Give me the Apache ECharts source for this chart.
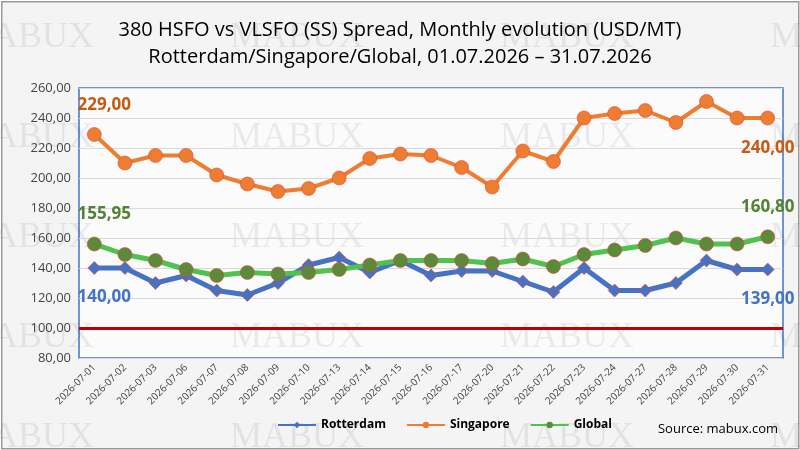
<!DOCTYPE html>
<html><head><meta charset="utf-8">
<script src="https://cdn.jsdelivr.net/npm/echarts@6/dist/echarts.min.js"></script>
<style>html,body{margin:0;padding:0;background:#fff}#chart{width:800px;height:450px}</style>
</head><body><div id="chart"></div>
<script>
const dates = ['2026-07-01','2026-07-02','2026-07-03','2026-07-06','2026-07-07','2026-07-08','2026-07-09','2026-07-10','2026-07-13','2026-07-14','2026-07-15','2026-07-16','2026-07-17','2026-07-20','2026-07-21','2026-07-22','2026-07-23','2026-07-24','2026-07-27','2026-07-28','2026-07-29','2026-07-30','2026-07-31']
const rotterdam = [140,140,130,135,125,122,130,142,147,137,145,135,138,138,131,124,140,125,125,130,145,139,139]
const singapore = [229,210,215,215,202,196,191,193,200,213,216,215,207,194,218,211,240,243,245,237,251,240,240]
const globalAvg = [155.95,149,145,139,135,137,136,137,139,142,145,145,145,143,146,141,149,152,155,160,156,156,160.8]

const fmt = v => v.toFixed(2).replace('.', ',')
const last = dates.length - 1

function mkSeries(name, data, lineColor, dotColor, textColor, symbol, size, lw, posFirst, posLast) {
  return {
    name, type: 'line', symbol, symbolSize: size,
    lineStyle: { color: lineColor, width: lw },
    itemStyle: { color: dotColor, borderColor: '#e8453c', borderWidth: 0.6 },
    data: data.map((v, i) => {
      if (i === 0 || i === last) {
        return { value: v, label: { show: true, position: i === 0 ? posFirst : posLast,
          offset: i === 0 ? [10, 0] : [0, 0],
          formatter: fmt(v), color: textColor, fontSize: 17, fontWeight: 'bold', fontFamily: 'Open Sans',
          distance: 14 } }
      }
      return v
    })
  }
}

const chart = echarts.init(document.getElementById('chart'))
const wm = []
for (let r = 0; r < 5; r++) for (let c = 0; c < 4; c++) {
  wm.push({ type: 'text', left: -40 + c * 270, top: 20 + r * 100, z: 0,
    style: { text: 'MABUX', font: '36px "Liberation Serif"', fill: 'rgba(0,0,0,0.07)' } })
}
wm.push({ type: 'text', right: 22, bottom: 14, z: 10,
  style: { text: 'Source: mabux.com', font: '13px "Open Sans"', fill: '#000' } })
wm.push({ type: 'rect', left: 1, top: 1, z: -1, shape: { width: 797, height: 447 },
  style: { fill: '#f4f4f4', stroke: '#999', lineWidth: 1.5 } })

chart.setOption({
  backgroundColor: '#fff',
  title: {
    text: '380 HSFO vs VLSFO (SS) Spread, Monthly evolution (USD/MT)\nRotterdam/Singapore/Global, 01.07.2026 – 31.07.2026',
    left: 'center', top: 12,
    textStyle: { fontFamily: 'Open Sans', fontSize: 20, fontWeight: 'normal', color: '#000', lineHeight: 27 }
  },
  graphic: wm,
  legend: {
    bottom: 14, left: 272, itemGap: 20, itemWidth: 38, itemHeight: 8,
    textStyle: { fontFamily: 'Open Sans', fontSize: 12, color: '#000', fontWeight: 'bold' },
    itemStyle: { borderWidth: 0 },
    data: ['Rotterdam', 'Singapore', 'Global']
  },
  grid: { left: 79, right: 17, top: 88, bottom: 92, show: true, borderColor: '#4472c4', borderWidth: 1.5, backgroundColor: 'rgba(255,255,255,0.6)' },
  xAxis: {
    type: 'category', data: dates, boundaryGap: true,
    axisLine: { show: false }, axisTick: { show: false },
    axisLabel: { rotate: 45, interval: 0, fontSize: 10, color: '#444', fontFamily: 'Open Sans' }
  },
  yAxis: {
    type: 'value', min: 80, max: 260, interval: 20,
    axisLabel: { formatter: v => fmt(v), fontSize: 13, color: '#444', fontFamily: 'Open Sans' },
    splitLine: { lineStyle: { color: '#d9d9d9' } }
  },
  series: [
    Object.assign(mkSeries('Rotterdam', rotterdam, '#4472c4', '#4472c4', '#4472c4', 'diamond', 13, 5, 'bottom', 'bottom'), {
      markLine: { silent: true, symbol: 'none', label: { show: false },
        lineStyle: { color: '#c00000', width: 3, type: 'solid' }, data: [{ yAxis: 100 }] }
    }),
    mkSeries('Singapore', singapore, '#ed7d31', '#ed7d31', '#c55a11', 'circle', 14, 4, 'top', 'bottom'),
    mkSeries('Global', globalAvg, '#4fc24f', '#5b8a3b', '#548235', 'circle', 14, 5, 'top', 'top')
  ]
})
</script></body></html>
